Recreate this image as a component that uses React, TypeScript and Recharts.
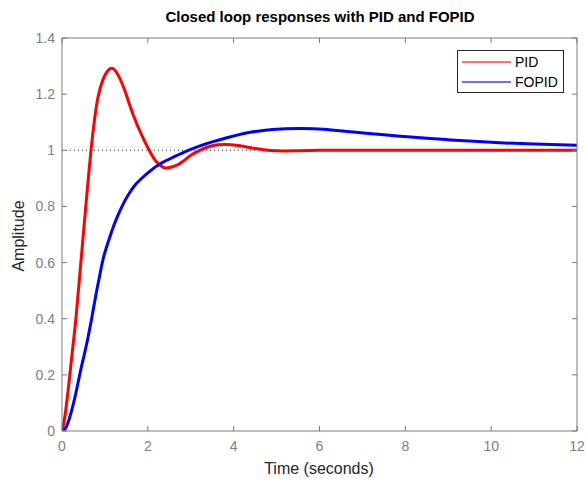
import React from 'react';
import { LineChart, Line, XAxis, YAxis, ReferenceLine } from 'recharts';

const pidT = [0, 0.05, 0.1, 0.15, 0.2, 0.26, 0.33, 0.445, 0.56, 0.62, 0.675, 0.75, 0.84, 0.95, 1.05, 1.15, 1.25, 1.35, 1.47, 1.66, 1.89, 2.05, 2.2, 2.35, 2.45, 2.65, 2.83, 3.0, 3.21, 3.5, 3.8, 4.1, 4.4, 4.7, 5.0, 5.4, 6.0, 7.0, 8.0, 9.0, 10.0, 11.0, 12.0];
const pidV = [0, 0.035, 0.09, 0.155, 0.225, 0.31, 0.41, 0.61, 0.81, 0.91, 1.0, 1.1, 1.19, 1.25, 1.28, 1.292, 1.282, 1.255, 1.21, 1.126, 1.043, 0.995, 0.959, 0.94, 0.937, 0.945, 0.962, 0.982, 1.0, 1.016, 1.021, 1.017, 1.009, 1.002, 0.998, 0.998, 1.0, 1.0, 1.0, 1.0, 1.0, 1.0, 1.0];

const fopidT = [0, 0.1, 0.22, 0.33, 0.44, 0.56, 0.69, 0.79, 0.88, 0.97, 1.08, 1.19, 1.3, 1.43, 1.56, 1.68, 1.82, 2.05, 2.3, 2.6, 2.9, 3.2, 3.5, 3.8, 4.1, 4.38, 4.9, 5.55, 6.1, 6.72, 7.3, 7.88, 8.5, 9.05, 9.6, 10.2, 11.0, 12.0];
const fopidV = [0, 0.015, 0.07, 0.14, 0.22, 0.3, 0.4, 0.485, 0.555, 0.62, 0.675, 0.725, 0.767, 0.81, 0.845, 0.872, 0.895, 0.926, 0.953, 0.976, 0.997, 1.015, 1.03, 1.043, 1.055, 1.064, 1.074, 1.078, 1.075, 1.066, 1.058, 1.05, 1.043, 1.037, 1.032, 1.027, 1.022, 1.018];

const xTicks = [0, 2, 4, 6, 8, 10, 12];
const yTicks = [0, 0.2, 0.4, 0.6, 0.8, 1, 1.2, 1.4];
const refLevel = 1;
const refEnd = 4.66;

const pidData = pidT.map((t, i) => ({ t, v: pidV[i] }));
const fopidData = fopidT.map((t, i) => ({ t, v: fopidV[i] }));

const FONT = '"Liberation Sans", Arial, Helvetica, sans-serif';
const AXIS = '#7a7a7a';
const tickStyle = { fill: '#808080', fontSize: 14, fontFamily: FONT };

export default function App() {
  return (
    <div style={{ position: 'absolute', left: 0, top: 0, width: 586, height: 482, background: '#fff' }}>
      <LineChart width={586} height={482} data={pidData} margin={{ top: 37, right: 8, bottom: 21, left: 22 }}>
        <XAxis xAxisId="b" dataKey="t" type="number" domain={[0, 12]} ticks={xTicks} orientation="bottom" height={30}
          stroke={AXIS} tick={tickStyle} tickSize={-5} tickMargin={15} allowDataOverflow interval={0} />
        <XAxis xAxisId="tp" dataKey="t" type="number" domain={[0, 12]} ticks={xTicks} orientation="top" height={1}
          stroke={AXIS} tick={tickStyle} tickSize={-5} tickFormatter={() => ''} allowDataOverflow interval={0} />
        <YAxis yAxisId="l" type="number" domain={[0, 1.4]} ticks={yTicks} orientation="left" width={40}
          stroke={AXIS} tick={tickStyle} tickSize={-5} tickMargin={12} allowDataOverflow interval={0} />
        <YAxis yAxisId="r" type="number" domain={[0, 1.4]} ticks={yTicks} orientation="right" width={1}
          stroke={AXIS} tick={tickStyle} tickSize={-5} tickFormatter={() => ''} allowDataOverflow interval={0} />
        <ReferenceLine xAxisId="b" yAxisId="l" segment={[{ x: 0, y: refLevel }, { x: refEnd, y: refLevel }]}
          stroke="#333" strokeWidth={1} strokeDasharray="1 3" />
        <Line xAxisId="b" yAxisId="l" data={pidData} dataKey="v" type="natural" stroke="#ff0000" strokeWidth={3}
          dot={false} isAnimationActive={false} />
        <Line xAxisId="b" yAxisId="l" data={fopidData} dataKey="v" type="natural" stroke="#0000ff" strokeWidth={3}
          dot={false} isAnimationActive={false} />
      </LineChart>
      <svg width={586} height={482} style={{ position: 'absolute', left: 0, top: 0, pointerEvents: 'none' }}>
        <text x={320} y={22} textAnchor="middle" fontFamily={FONT} fontWeight="bold" fontSize={15} fill="#000">
          Closed loop responses with PID and FOPID
        </text>
        <text x={319} y={474} textAnchor="middle" fontFamily={FONT} fontSize={16} fill="#262626">Time (seconds)</text>
        <text x={24} y={236} textAnchor="middle" fontFamily={FONT} fontSize={16} fill="#262626"
          transform="rotate(-90 24 236)">Amplitude</text>
        <rect x={457.5} y={50.5} width={106} height={42} fill="#fff" stroke="#262626" strokeWidth={1} />
        <line x1={462} y1={62} x2={511} y2={62} stroke="#ff4040" strokeWidth={1.5} />
        <line x1={462} y1={82} x2={511} y2={82} stroke="#4040ff" strokeWidth={1.5} />
        <text x={515} y={67} fontFamily={FONT} fontSize={14} fill="#000">PID</text>
        <text x={515} y={87} fontFamily={FONT} fontSize={14} fill="#000">FOPID</text>
      </svg>
    </div>
  );
}
